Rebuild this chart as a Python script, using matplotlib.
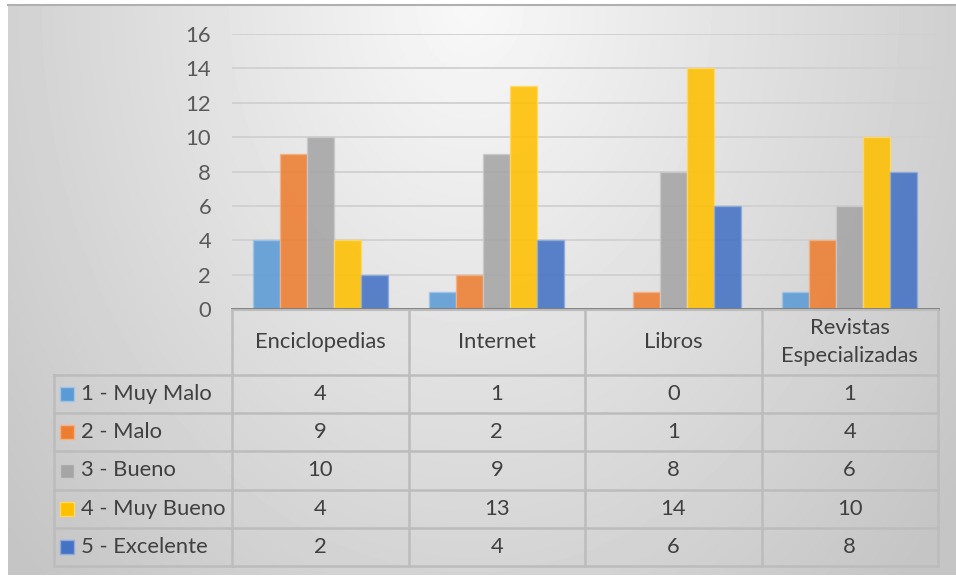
import numpy as np
import matplotlib.pyplot as plt

# data
categories = ["Enciclopedias", "Internet", "Libros", "Revistas\nEspecializadas"]
series_names = ["1 - Muy Malo", "2 - Malo", "3 - Bueno", "4 - Muy Bueno", "5 - Excelente"]
muy_malo = [4, 1, 0, 1]
malo = [9, 2, 1, 4]
bueno = [10, 9, 8, 6]
muy_bueno = [4, 13, 14, 10]
excelente = [2, 4, 6, 8]
series_values = [muy_malo, malo, bueno, muy_bueno, excelente]
colors = ["#5B9BD5", "#ED7D31", "#A5A5A5", "#FFC000", "#4472C4"]
edge_colors = ["#9DC3E6", "#F4B183", "#C9C9C9", "#FFD966", "#8FAADC"]
yticks = [0, 2, 4, 6, 8, 10, 12, 14, 16]

FONT = "Lato"
FS = 15.8
TXT = "#404040"
W, H = 956, 577
fig = plt.figure(figsize=(W / 100, H / 100), dpi=100)


def box(l, t, r, b):
    return [l / W, 1 - b / H, (r - l) / W, (b - t) / H]


# background with soft radial gradient
bg = fig.add_axes([0, 0, 1, 1])
bg.set_xlim(0, W)
bg.set_ylim(H, 0)
bg.axis("off")
yy, xx = np.mgrid[4:575, 8:W]
d = np.sqrt(((xx - 470) / 540.0) ** 2 + (yy / 720.0) ** 2)
shade = np.clip(0.975 - 0.18 * d, 0.77, 1.0)
bg.imshow(shade, cmap="gray", vmin=0, vmax=1, extent=(8, W, 575, 4),
          aspect="auto", interpolation="bilinear")
bg.plot([8, W], [4.5, 4.5], color="#b0b0b0", lw=1.5)

# bar chart
ax = fig.add_axes(box(232, 34, 938, 309))
ax.patch.set_alpha(0)
x = np.arange(len(categories))
bw = 0.153
for i, (vals, c, ec) in enumerate(zip(series_values, colors, edge_colors)):
    ax.bar(x + (i - 2) * bw, vals, width=bw, color=c, alpha=0.88,
           edgecolor=ec, linewidth=1.0, zorder=3)
ax.set_xlim(-0.5, len(categories) - 0.5)
ax.set_ylim(0, 16)
ax.set_yticks(yticks)
ax.set_yticklabels([str(t) for t in yticks], fontsize=FS, color="#595959",
                   family=FONT)
ax.tick_params(axis="y", length=0, pad=15)
ax.set_xticks([])
ax.yaxis.grid(True, color="#d0d0d0", lw=1.3, zorder=0)
ax.set_axisbelow(True)
for s in ax.spines.values():
    s.set_visible(False)
ax.axhline(0, color="#7a7a7a", lw=2, zorder=4, clip_on=False)

# data table under the chart
tb = fig.add_axes(box(54, 309, 938, 566))
tb.set_xlim(54, 938)
tb.set_ylim(566, 309)
tb.axis("off")
col_edges = np.linspace(232, 938, len(categories) + 1)
head_bottom = 375
row_edges = np.linspace(head_bottom, 566, len(series_names) + 1)
lc = "#bcbcbc"
tb.plot([232, 938], [310, 310], color=lc, lw=1.5, clip_on=False)
for yv in row_edges:
    tb.plot([54, 938], [yv, yv], color=lc, lw=1.8, clip_on=False)
for xv in col_edges:
    tb.plot([xv, xv], [310, 566], color=lc, lw=1.8, clip_on=False)
tb.plot([54, 54], [head_bottom, 566], color=lc, lw=1.8, clip_on=False)

for j, cat in enumerate(categories):
    cx = (col_edges[j] + col_edges[j + 1]) / 2
    tb.text(cx, (310 + head_bottom) / 2, cat, ha="center", va="center",
            fontsize=FS, color=TXT, family=FONT, linespacing=1.5)

for i, (name, vals, c) in enumerate(zip(series_names, series_values, colors)):
    cy = (row_edges[i] + row_edges[i + 1]) / 2
    tb.scatter([67], [cy], marker="s", s=100, color=c, edgecolors=edge_colors[i],
               linewidths=1.0, clip_on=False)
    tb.text(81, cy, name, ha="left", va="center", fontsize=FS, color=TXT,
            family=FONT)
    for j, v in enumerate(vals):
        cx = (col_edges[j] + col_edges[j + 1]) / 2
        tb.text(cx, cy, str(v), ha="center", va="center", fontsize=FS,
                color=TXT, family=FONT)

fig.savefig("out.png", dpi=100)
